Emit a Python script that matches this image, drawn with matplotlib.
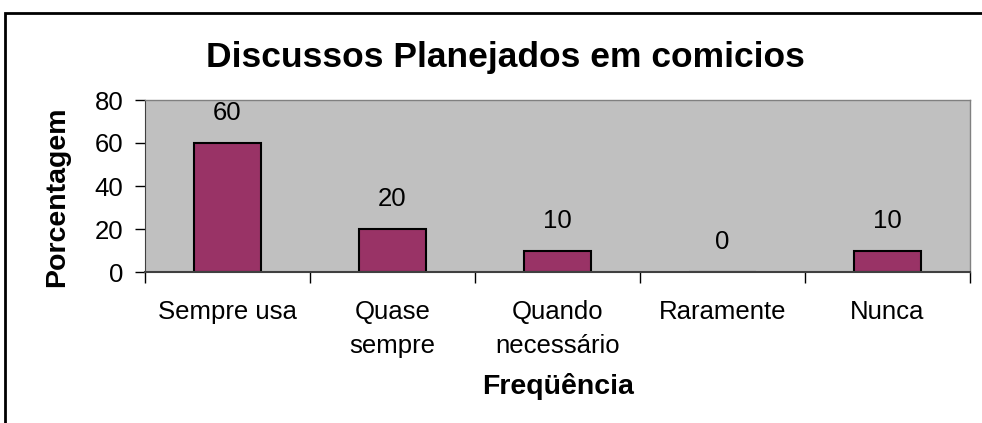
import numpy as np
import matplotlib.pyplot as plt
from matplotlib.patches import Rectangle

plt.rcParams['font.family'] = ['Liberation Sans', 'DejaVu Sans']

categorias = ["Sempre usa", "Quase\nsempre", "Quando\nnecessário", "Raramente", "Nunca"]
porcentagem = [60, 20, 10, 0, 10]
yticks = [0, 20, 40, 60, 80]

fig = plt.figure(figsize=(9.82, 4.23), dpi=100)
ax = fig.add_axes([145/982, 151/423, 825/982, 172/423])
ax.set_facecolor("#C0C0C0")

x = np.arange(len(categorias))
bars = ax.bar(x, porcentagem, width=0.41, color="#993366", edgecolor="black", linewidth=1.5)
for xi, v in zip(x, porcentagem):
    ax.annotate(str(v), xy=(xi, v), xytext=(0, 21.5), textcoords="offset points",
                ha="center", va="center", fontsize=18.5)

ax.set_xlim(-0.5, len(categorias) - 0.5)
ax.set_ylim(0, 80)
ax.set_yticks(yticks)
ax.set_xticks(x)
ax.set_xticklabels(categorias, fontsize=18.5, va="top", linespacing=1.55)
ax.set_xticks(np.arange(-0.5, len(categorias)), minor=True)
ax.tick_params(axis="x", which="major", length=0, pad=20)
ax.tick_params(axis="x", which="minor", length=8, width=1, direction="out")
ax.tick_params(axis="y", labelsize=18.5, length=7.5, width=1, direction="out", pad=8)

for s in ["top", "right"]:
    ax.spines[s].set_color("#808080")
    ax.spines[s].set_linewidth(1)
ax.spines["left"].set_color("#404040")
ax.spines["bottom"].set_color("#404040")
ax.spines["bottom"].set_linewidth(1.5)

ax.set_ylabel("Porcentagem", fontsize=20.5, fontweight="bold")
ax.yaxis.set_label_coords(57/982, 1 - 197/423, transform=fig.transFigure)
ax.set_xlabel("Freqüência", fontsize=20.5, fontweight="bold")
ax.xaxis.set_label_coords(558/982, 1 - 386/423, transform=fig.transFigure)
ax.xaxis.label.set_va("center")
ax.yaxis.label.set_va("center")
fig.text(505/982, 1 - 57/423, "Discussos Planejados em comicios", fontsize=25.5,
         fontweight="bold", ha="center", va="center")

fig.patches.append(Rectangle((5/982, -0.1), 1.1, 1 - 13/423 + 0.1, transform=fig.transFigure,
                             fill=False, edgecolor="black", linewidth=2))

fig.savefig("out.png", dpi=100)
